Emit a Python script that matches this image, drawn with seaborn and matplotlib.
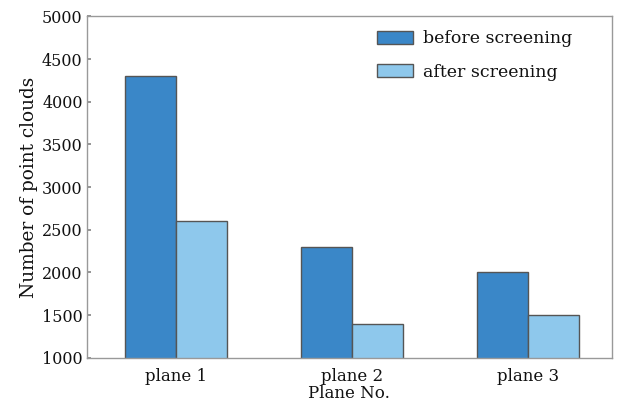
import pandas as pd
import matplotlib.pyplot as plt
import seaborn as sns

# Data
planes = ["plane 1", "plane 2", "plane 3"]
before = [4300, 2300, 2000]
after = [2600, 1400, 1500]

df = pd.DataFrame({
    "plane": planes * 2,
    "count": before + after,
    "stage": ["before screening"] * 3 + ["after screening"] * 3,
})

sns.set_theme(style="white")
plt.rcParams["font.family"] = ["DejaVu Serif"]
plt.rcParams["text.color"] = "#111111"
plt.rcParams["axes.labelcolor"] = "#111111"
plt.rcParams["xtick.color"] = "#111111"
plt.rcParams["ytick.color"] = "#111111"

fig, ax = plt.subplots(figsize=(6.2, 4.09), dpi=100)
sns.barplot(data=df, x="plane", y="count", hue="stage", width=0.58, saturation=1,
            palette={"before screening": "#3a87c8", "after screening": "#8ec8ec"},
            edgecolor="#555555", linewidth=1.0, ax=ax)

ax.set_ylim(1000, 5000)
ax.set_xlim(-0.51, 2.48)
ax.set_yticks(range(1000, 5001, 500))
ax.set_xlabel("Plane No.", fontsize=12, labelpad=0)
ax.set_ylabel("Number of point clouds", fontsize=13.3, labelpad=3)
ax.tick_params(axis="y", direction="in", length=3, left=True, labelsize=11.5, color="#888888", pad=3)
ax.tick_params(axis="x", length=0, labelsize=12, pad=7)
for s in ax.spines.values():
    s.set_color("#999999")
    s.set_linewidth(1.0)

ax.legend(loc="upper right", frameon=False, fontsize=12.5, labelspacing=0.95,
          handlelength=2.1, handleheight=0.8, handletextpad=0.6,
          bbox_to_anchor=(0.955, 1.005))

plt.subplots_adjust(left=0.14, right=0.987, top=0.96, bottom=0.125)
plt.savefig("out.png")
plt.close()
